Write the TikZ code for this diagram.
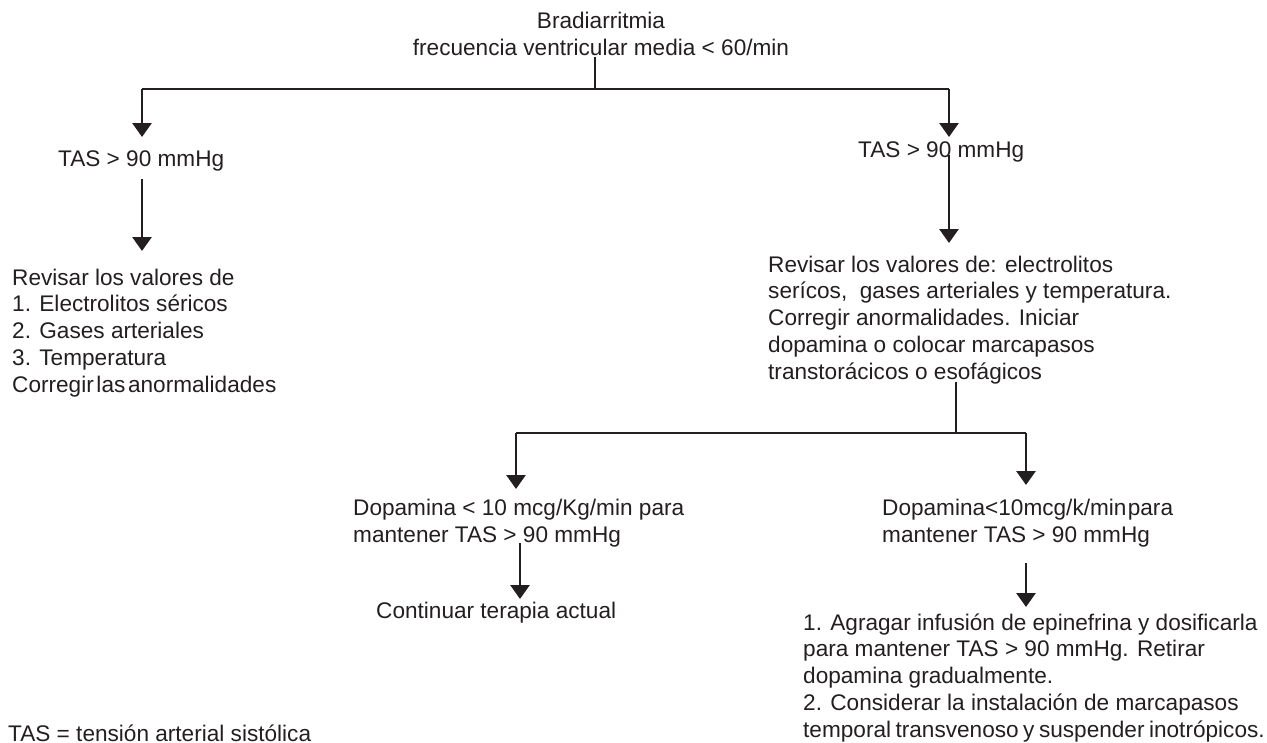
\documentclass[tikz,border=0pt]{standalone}
\usepackage{fontspec}
\setmainfont{Liberation Sans}
\usetikzlibrary{arrows.meta}
\definecolor{ink}{RGB}{35,31,32}
\newcommand\tightsp[1]{\spaceskip=#1\relax}
\begin{document}
\begin{tikzpicture}[x=1pt,y=-1pt,
  txt/.style={inner sep=0pt,anchor=base west,align=left,text=ink,
    font=\fontsize{22.6}{26.7}\selectfont},
  ln/.style={draw=ink,line width=2.8pt},
  arr/.style={ln,-{Triangle[width=19pt,length=14pt]}}]
\useasboundingbox (0,0) rectangle (1267,742);
% texts (base anchor = baseline of the last line)
\node[txt,anchor=base,align=center] (title) at (601,55) {Bradiarritmia\\frecuencia ventricular media < 60/min};
\node[txt] (tasL) at (58,166) {TAS > 90 mmHg};
\node[txt] (tasR) at (858,157) {TAS > 90 mmHg};
\node[txt] (revL) at (12,392) {Revisar los valores de\\1. Electrolitos séricos\\2. Gases arteriales\\3. Temperatura\\{\tightsp{0.12em}Corregir las anormalidades}};
\node[txt] (revR) at (768,379) {Revisar los valores de: electrolitos\\serícos,\ \ gases arteriales y temperatura.\\Corregir anormalidades. Iniciar\\dopamina o colocar marcapasos\\transtorácicos o esofágicos};
\node[txt] (dopL) at (353,542) {Dopamina < 10 mcg/Kg/min para\\mantener TAS > 90 mmHg};
\node[txt] (dopR) at (882,542) {{\tightsp{0.06em}Dopamina<10mcg/k/min para}\\mantener TAS > 90 mmHg};
\node[txt] (cont) at (376,618) {Continuar terapia actual};
\node[txt] (final) at (803,737) {1. Agragar infusión de epinefrina y dosificarla\\para mantener TAS > 90 mmHg. Retirar\\dopamina gradualmente.\\2. Considerar la instalación de marcapasos\\{\tightsp{0.2em}temporal transvenoso y suspender inotrópicos.}};
\node[txt] (foot) at (8,741) {TAS = tensión arterial sistólica};
% junction coordinates
\coordinate (t0) at (595,57);
\coordinate (t1) at (595,89);
\coordinate (hl) at (142,89);
\coordinate (hr) at (949,89);
\coordinate (al1) at (142,137);
\coordinate (ar1) at (949,137);
\coordinate (sl2) at (142,179);
\coordinate (al2) at (142,251);
\coordinate (sr2) at (949,155);
\coordinate (ar2) at (949,243);
\coordinate (s3) at (956,382);
\coordinate (j3) at (956,433);
\coordinate (hl3) at (516,433);
\coordinate (hr3) at (1026,433);
\coordinate (al3) at (516,489);
\coordinate (ar3) at (1026,485);
\coordinate (sl4) at (520,543);
\coordinate (al4) at (520,599);
\coordinate (sr4) at (1026,563);
\coordinate (ar4) at (1026,607);
% connectors
\draw[ln] (t0) -- (t1);
\draw[ln] (hl) -- (hr);
\draw[arr] (hl) -- (al1);
\draw[arr] (hr) -- (ar1);
\draw[arr] (sl2) -- (al2);
\draw[arr] (sr2) -- (ar2);
\draw[ln] (s3) -- (j3);
\draw[ln] (hl3) -- (hr3);
\draw[arr] (hl3) -- (al3);
\draw[arr] (hr3) -- (ar3);
\draw[arr] (sl4) -- (al4);
\draw[arr] (sr4) -- (ar4);
\end{tikzpicture}
\end{document}
